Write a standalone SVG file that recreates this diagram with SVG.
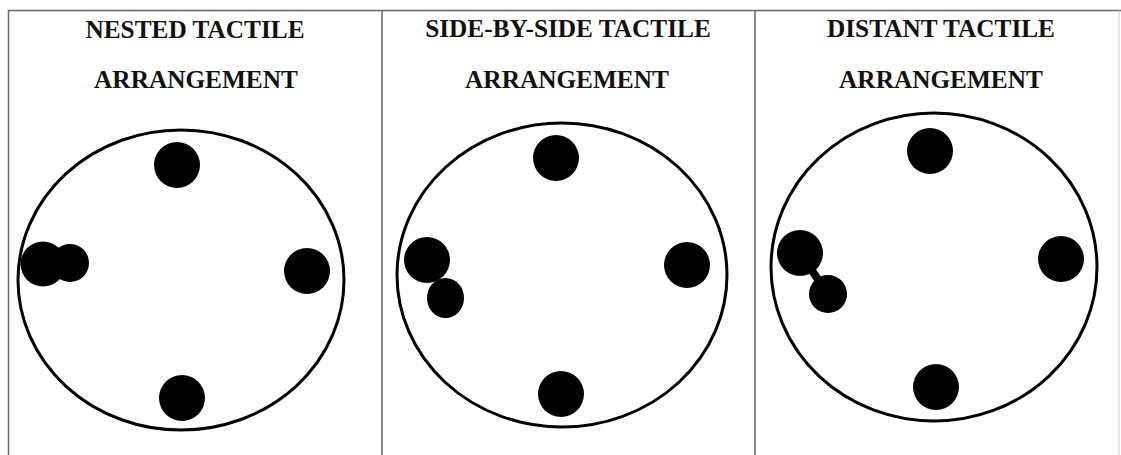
<svg xmlns="http://www.w3.org/2000/svg" width="1121" height="455" viewBox="0 0 1121 455">
<style>
.frame{stroke:#666;stroke-width:1.5;fill:none}
.ring{fill:none;stroke:#000;stroke-width:3}
.dot{fill:#000}
.t{font-family:"Liberation Serif","Times New Roman",serif;font-weight:bold;font-size:25.3px;fill:#111;text-anchor:middle}
</style>
<rect width="1121" height="455" fill="#fff"/>
<g id="frame">
<path class="frame" d="M8.5 455V10.5H1121"/>
<path class="frame" d="M382 10.5V455M755 10.5V455"/>
<path d="M1119 10.5V455" stroke="#ccc" stroke-width="1"/>
</g>
<g id="panel-nested">
<text class="t" x="195" y="38">NESTED TACTILE</text>
<text class="t" x="196" y="88">ARRANGEMENT</text>
<ellipse class="ring" cx="181" cy="280" rx="163" ry="150"/>
<circle class="dot" cx="177" cy="165" r="23"/>
<circle class="dot" cx="307" cy="271" r="23"/>
<circle class="dot" cx="182" cy="398" r="23"/>
<circle class="dot" cx="43" cy="264" r="22.5"/>
<circle class="dot" cx="70" cy="263" r="19"/>
</g>
<g id="panel-side">
<text class="t" x="568" y="37">SIDE-BY-SIDE TACTILE</text>
<text class="t" x="567" y="88">ARRANGEMENT</text>
<ellipse class="ring" cx="562" cy="275" rx="165" ry="152"/>
<circle class="dot" cx="556" cy="158" r="23"/>
<circle class="dot" cx="687" cy="265" r="23"/>
<circle class="dot" cx="561" cy="394" r="23"/>
<circle class="dot" cx="427" cy="260" r="23"/>
<ellipse class="dot" cx="445.5" cy="298" rx="18.5" ry="20"/>
</g>
<g id="panel-distant">
<text class="t" x="941" y="37">DISTANT TACTILE</text>
<text class="t" x="941" y="88">ARRANGEMENT</text>
<ellipse class="ring" cx="934" cy="267" rx="163" ry="154"/>
<circle class="dot" cx="930" cy="151" r="23"/>
<circle class="dot" cx="1061" cy="259" r="23"/>
<circle class="dot" cx="936" cy="387" r="23"/>
<line x1="800" y1="253" x2="828" y2="294" stroke="#000" stroke-width="8"/>
<circle class="dot" cx="800" cy="253" r="23"/>
<circle class="dot" cx="828" cy="294" r="19"/>
</g>
</svg>
